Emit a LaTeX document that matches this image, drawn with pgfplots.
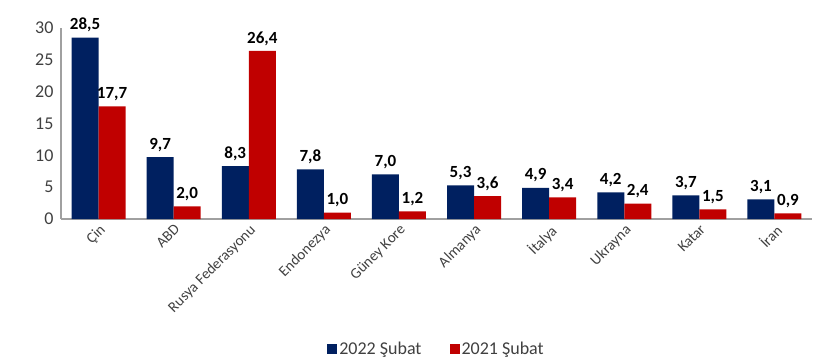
\documentclass[border=0pt]{standalone}
\usepackage{pgfplots}
\pgfplotsset{compat=1.18}
\usepackage{fontspec}
\setmainfont{Carlito}
\definecolor{navy}{RGB}{0,32,96}
\definecolor{kirmizi}{RGB}{192,0,0}
\definecolor{eksen}{RGB}{160,160,160}
\definecolor{yazi}{RGB}{64,64,64}
\begin{document}
\begin{tikzpicture}
\path[use as bounding box] (-61pt,-143pt) rectangle (759pt,219pt);
\begin{axis}[
  at={(0pt,0pt)}, anchor=south west,
  scale only axis, width=751pt, height=191pt,
  ybar=0pt, bar width=27pt,
  xmin=-0.5, xmax=9.5, ymin=0, ymax=30,
  ytick={0,5,...,30},
  xtick=data,
  xticklabels={Çin,ABD,Rusya Federasyonu,Endonezya,Güney Kore,Almanya,İtalya,Ukrayna,Katar,İran},
  x tick label style={rotate=45, anchor=north east, font=\fontsize{15}{17}\selectfont, text=yazi, inner sep=3pt},
  y tick label style={font=\fontsize{18}{20}\selectfont, text=yazi, xshift=-4pt},
  /pgf/number format/assume math mode=true,
  axis x line*=bottom, axis y line*=left,
  axis line style={eksen, line width=1.2pt},
  major tick length=0pt,
  nodes near coords,
  every node near coord/.append style={font=\bfseries\fontsize{17}{19}\selectfont, text=black, yshift=2pt,
    /pgf/number format/.cd, fixed, fixed zerofill, precision=1, use comma},
  legend style={at={(0.5,-143pt+13pt)}, anchor=center, draw=none, legend columns=2,
    font=\fontsize{18}{20}\selectfont, text=yazi,
    /tikz/every even column/.append style={column sep=26pt}},
  legend image code/.code={\fill[#1] (0pt,-5pt) rectangle (10pt,5pt);},
]
\addplot[fill=navy, draw=none] coordinates {
  (0,28.5) (1,9.7) (2,8.3) (3,7.8) (4,7.0) (5,5.3) (6,4.9) (7,4.2) (8,3.7) (9,3.1)};
\addplot[fill=kirmizi, draw=none] coordinates {
  (0,17.7) (1,2.0) (2,26.4) (3,1.0) (4,1.2) (5,3.6) (6,3.4) (7,2.4) (8,1.5) (9,0.9)};
\legend{2022 Şubat, 2021 Şubat}
\end{axis}
\end{tikzpicture}
\end{document}
